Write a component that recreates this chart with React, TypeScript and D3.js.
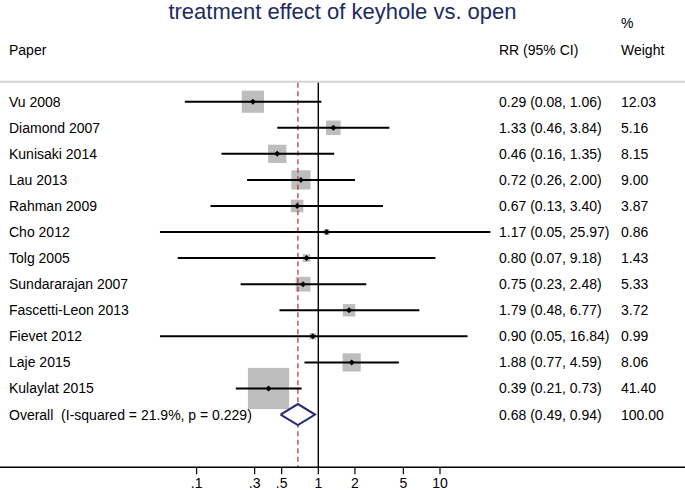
import React from "react";
import * as d3 from "d3";

const papers = [
  "Vu 2008",
  "Diamond 2007",
  "Kunisaki 2014",
  "Lau 2013",
  "Rahman 2009",
  "Cho 2012",
  "Tolg 2005",
  "Sundararajan 2007",
  "Fascetti-Leon 2013",
  "Fievet 2012",
  "Laje 2015",
  "Kulaylat 2015",
];
const rr = [0.29, 1.33, 0.46, 0.72, 0.67, 1.17, 0.8, 0.75, 1.79, 0.9, 1.88, 0.39];
const lo = [0.08, 0.46, 0.16, 0.26, 0.13, 0.05, 0.07, 0.23, 0.48, 0.05, 0.77, 0.21];
const hi = [1.06, 3.84, 1.35, 2.0, 3.4, 25.97, 9.18, 2.48, 6.77, 16.84, 4.59, 0.73];
const weights = [12.03, 5.16, 8.15, 9.0, 3.87, 0.86, 1.43, 5.33, 3.72, 0.99, 8.06, 41.4];

const overallLabel = "Overall  (I-squared = 21.9%, p = 0.229)";
const overallRR = 0.68;
const overallLo = 0.49;
const overallHi = 0.94;
const overallWeight = 100.0;

const tickValues = [0.1, 0.3, 0.5, 1, 2, 5, 10];
const tickLabels = [".1", ".3", ".5", "1", "2", "5", "10"];

const title = "treatment effect of keyhole vs. open";

const W = 685;
const H = 490;
const FONT = "'Liberation Sans', Arial, Helvetica, sans-serif";

export default function App() {
  const x = d3.scaleLog().domain([1, 10]).range([318.3, 440]);
  const nRows = papers.length + 1;
  const y = d3
    .scaleLinear()
    .domain([0, nRows - 1])
    .range([101.7, 101.7 + 26.07 * (nRows - 1)]);
  const boxK = 6.4;
  const topLineY = 81.7;
  const axisY = 467.3;
  const fmt = (v: number) => v.toFixed(2);
  const rrText = (i: number) => `${fmt(rr[i])} (${fmt(lo[i])}, ${fmt(hi[i])})`;
  const oy = y(papers.length);
  const diamondPath = d3.line()([
    [x(overallLo), oy],
    [x(overallRR), oy - 10.5],
    [x(overallHi), oy],
    [x(overallRR), oy + 10.5],
    [x(overallLo), oy],
  ] as [number, number][]);

  return (
    <svg
      width={W}
      height={H}
      style={{ position: "absolute", left: 0, top: 0, background: "#fff" }}
      fontFamily={FONT}
    >
      <rect x={0} y={0} width={W} height={H} fill="#fff" />
      <text x={W / 2} y={18.5} textAnchor="middle" fontSize={22} fill="#1e2b5e">
        {title}
      </text>
      <text x={9} y={55} fontSize={14} fill="#000">Paper</text>
      <text x={499} y={55} fontSize={14} fill="#000">RR (95% CI)</text>
      <text x={621} y={28} fontSize={14} fill="#000">%</text>
      <text x={621} y={55} fontSize={14} fill="#000">Weight</text>
      <line x1={0} x2={W} y1={topLineY} y2={topLineY} stroke="#d4d4d4" strokeWidth={2} />

      {/* boxes */}
      {papers.map((p, i) => {
        const s = boxK * Math.sqrt(weights[i]);
        return (
          <rect
            key={"b" + p}
            x={x(rr[i]) - s / 2}
            y={y(i) - s / 2}
            width={s}
            height={s}
            fill="#bdbdbd"
          />
        );
      })}

      {/* reference lines */}
      <line x1={x(1)} x2={x(1)} y1={topLineY + 1} y2={axisY} stroke="#000" strokeWidth={1.4} />
      <line
        x1={x(overallRR)}
        x2={x(overallRR)}
        y1={topLineY + 1}
        y2={axisY}
        stroke="#c0282d"
        strokeWidth={1.2}
        strokeDasharray="5,3.5"
      />

      {/* CIs and points */}
      {papers.map((p, i) => {
        const cx = x(rr[i]);
        const cy = y(i);
        return (
          <g key={"c" + p}>
            <line x1={x(lo[i])} x2={x(hi[i])} y1={cy} y2={cy} stroke="#000" strokeWidth={2} />
            <path
              d={`M${cx - 3},${cy}L${cx},${cy - 3}L${cx + 3},${cy}L${cx},${cy + 3}Z`}
              fill="#000"
            />
          </g>
        );
      })}

      <path d={diamondPath || ""} fill="#fff" stroke="#272a78" strokeWidth={2} />

      {/* labels */}
      {papers.map((p, i) => (
        <g key={"t" + p} fontSize={14} fill="#000">
          <text x={9} y={y(i) + 5}>{p}</text>
          <text x={499} y={y(i) + 5}>{rrText(i)}</text>
          <text x={621} y={y(i) + 5}>{fmt(weights[i])}</text>
        </g>
      ))}
      <g fontSize={14} fill="#000">
        <text x={9} y={oy + 5} style={{ whiteSpace: "pre" }}>{overallLabel}</text>
        <text x={499} y={oy + 5}>
          {`${fmt(overallRR)} (${fmt(overallLo)}, ${fmt(overallHi)})`}
        </text>
        <text x={621} y={oy + 5}>{fmt(overallWeight)}</text>
      </g>

      {/* axis */}
      <line x1={0} x2={W} y1={axisY} y2={axisY} stroke="#000" strokeWidth={1.4} />
      {tickValues.map((t, i) => (
        <g key={"k" + t}>
          <line x1={x(t)} x2={x(t)} y1={axisY} y2={axisY + 7} stroke="#000" strokeWidth={1.2} />
          <text x={x(t)} y={487.5} textAnchor="middle" fontSize={14} fill="#000">
            {tickLabels[i]}
          </text>
        </g>
      ))}
    </svg>
  );
}
